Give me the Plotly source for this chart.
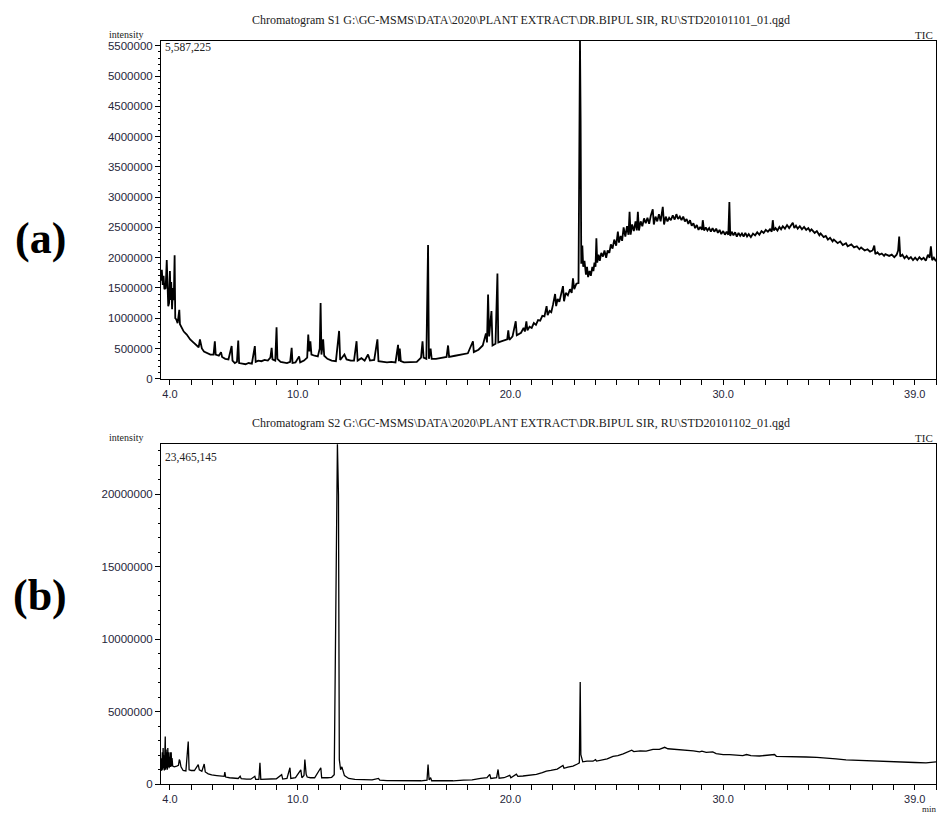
import plotly.graph_objects as go

# ---------------- data ----------------
# (a) Chromatogram S1 : (retention time in min, intensity in millions of counts)
chrom_a = [
    (3.58, 1.62), (3.62, 1.80), (3.66, 1.55), (3.70, 1.70), (3.74, 1.48), (3.80, 1.50), (3.85, 1.96),
    (3.88, 1.40), (3.92, 1.20), (3.96, 1.25), (4.00, 1.78), (4.03, 1.30), (4.06, 1.60), (4.10, 1.15),
    (4.14, 1.50), (4.18, 1.30), (4.22, 2.04), (4.25, 1.00), (4.30, 0.98), (4.36, 0.92), (4.44, 1.14),
    (4.47, 0.90), (4.55, 0.84), (4.65, 0.78), (4.79, 0.73), (4.95, 0.65), (5.10, 0.60), (5.25, 0.55),
    (5.35, 0.52), (5.41, 0.65), (5.45, 0.55), (5.50, 0.50), (5.60, 0.45), (5.75, 0.42), (5.90, 0.40),
    (6.05, 0.40), (6.11, 0.62), (6.15, 0.40), (6.30, 0.38), (6.40, 0.44), (6.45, 0.36), (6.60, 0.33),
    (6.75, 0.32), (6.90, 0.54), (6.94, 0.30), (7.05, 0.26), (7.15, 0.28), (7.21, 0.63), (7.25, 0.26),
    (7.40, 0.25), (7.55, 0.24), (7.70, 0.26), (7.85, 0.25), (7.99, 0.54), (8.03, 0.28), (8.15, 0.30),
    (8.30, 0.29), (8.45, 0.31), (8.60, 0.30), (8.72, 0.35), (8.78, 0.51), (8.82, 0.32), (8.95, 0.30),
    (9.01, 0.85), (9.05, 0.33), (9.20, 0.28), (9.35, 0.27), (9.50, 0.26), (9.65, 0.28), (9.72, 0.51),
    (9.76, 0.26), (9.90, 0.27), (10.07, 0.37), (10.12, 0.27), (10.30, 0.30), (10.45, 0.35), (10.50, 0.73),
    (10.55, 0.45), (10.60, 0.62), (10.65, 0.40), (10.80, 0.38), (10.95, 0.37), (11.04, 0.50), (11.08, 1.25),
    (11.12, 0.40), (11.20, 0.65), (11.25, 0.38), (11.40, 0.33), (11.60, 0.30), (11.80, 0.29), (11.95, 0.79),
    (12.00, 0.31), (12.20, 0.40), (12.30, 0.32), (12.50, 0.30), (12.65, 0.30), (12.77, 0.62), (12.82, 0.30),
    (13.00, 0.34), (13.15, 0.30), (13.31, 0.40), (13.40, 0.30), (13.60, 0.31), (13.75, 0.65), (13.80, 0.29),
    (14.00, 0.28), (14.20, 0.27), (14.40, 0.28), (14.60, 0.27), (14.72, 0.56), (14.76, 0.29), (14.80, 0.50),
    (14.85, 0.29), (15.00, 0.27), (15.30, 0.28), (15.60, 0.28), (15.80, 0.35), (15.87, 0.62), (15.92, 0.35),
    (16.05, 0.33), (16.13, 2.21), (16.17, 0.33), (16.25, 0.50), (16.30, 0.33), (16.50, 0.33), (16.80, 0.35),
    (17.00, 0.36), (17.07, 0.55), (17.12, 0.36), (17.40, 0.38), (17.70, 0.40), (18.00, 0.42), (18.24, 0.62),
    (18.28, 0.44), (18.50, 0.48), (18.70, 0.55), (18.85, 0.75), (18.90, 0.60), (18.95, 1.39), (19.00, 0.70),
    (19.05, 0.90), (19.11, 1.12), (19.16, 0.55), (19.30, 0.58), (19.39, 1.74), (19.43, 0.60), (19.60, 0.62),
    (19.85, 0.65), (19.90, 0.80), (19.95, 0.64), (20.10, 0.70), (20.25, 0.95), (20.30, 0.72), (20.50, 0.76),
    (20.62, 0.84), (20.68, 0.78), (20.75, 0.95), (20.80, 0.80), (20.90, 0.86), (21.00, 0.84), (21.10, 0.92),
    (21.20, 0.89), (21.30, 0.97), (21.40, 0.96), (21.50, 1.04), (21.60, 1.03), (21.70, 1.20), (21.75, 1.05),
    (21.84, 1.12), (21.92, 1.10), (22.00, 1.22), (22.10, 1.40), (22.15, 1.20), (22.22, 1.32), (22.30, 1.27),
    (22.38, 1.38), (22.47, 1.53), (22.52, 1.28), (22.60, 1.42), (22.70, 1.38), (22.80, 1.48), (22.88, 1.42),
    (22.94, 1.66), (23.00, 1.48), (23.10, 1.57), (23.20, 1.58), (23.24, 3.50), (23.27, 5.59), (23.30, 4.26),
    (23.33, 1.90), (23.38, 2.20), (23.42, 1.85), (23.48, 1.95), (23.55, 1.72), (23.60, 1.85), (23.65, 1.68),
    (23.72, 1.78), (23.78, 1.70), (23.85, 1.85), (23.90, 1.78), (23.95, 1.92), (24.00, 1.85), (24.04, 2.32),
    (24.08, 1.92), (24.14, 2.05), (24.20, 1.95), (24.27, 2.08), (24.35, 2.02), (24.42, 2.12), (24.50, 2.00),
    (24.57, 2.12), (24.65, 2.08), (24.72, 2.22), (24.80, 2.15), (24.88, 2.30), (24.97, 2.20), (25.05, 2.43),
    (25.10, 2.25), (25.18, 2.36), (25.25, 2.28), (25.32, 2.50), (25.40, 2.35), (25.48, 2.52), (25.55, 2.38),
    (25.60, 2.76), (25.65, 2.38), (25.72, 2.55), (25.80, 2.44), (25.88, 2.60), (25.94, 2.45), (25.99, 2.76),
    (26.04, 2.45), (26.12, 2.60), (26.20, 2.52), (26.28, 2.65), (26.36, 2.57), (26.44, 2.66), (26.52, 2.56),
    (26.60, 2.70), (26.69, 2.80), (26.74, 2.55), (26.82, 2.68), (26.90, 2.60), (26.98, 2.72), (27.06, 2.60),
    (27.16, 2.84), (27.22, 2.55), (27.30, 2.68), (27.38, 2.60), (27.46, 2.66), (27.54, 2.62), (27.63, 2.70),
    (27.72, 2.63), (27.80, 2.72), (27.88, 2.64), (27.96, 2.68), (28.04, 2.62), (28.12, 2.68), (28.20, 2.60),
    (28.28, 2.64), (28.36, 2.56), (28.44, 2.62), (28.52, 2.53), (28.60, 2.57), (28.68, 2.49), (28.76, 2.54),
    (28.84, 2.46), (28.92, 2.51), (29.00, 2.46), (29.04, 2.62), (29.10, 2.45), (29.18, 2.50), (29.26, 2.45),
    (29.34, 2.49), (29.42, 2.43), (29.50, 2.49), (29.58, 2.43), (29.67, 2.48), (29.75, 2.41), (29.83, 2.46),
    (29.91, 2.39), (30.00, 2.44), (30.08, 2.38), (30.16, 2.43), (30.24, 2.38), (30.29, 2.92), (30.33, 2.36),
    (30.40, 2.43), (30.48, 2.37), (30.56, 2.42), (30.64, 2.35), (30.72, 2.41), (30.80, 2.36), (30.88, 2.40),
    (30.96, 2.35), (31.04, 2.41), (31.12, 2.35), (31.20, 2.39), (31.30, 2.34), (31.40, 2.40), (31.50, 2.37),
    (31.60, 2.42), (31.70, 2.38), (31.80, 2.44), (31.90, 2.41), (32.00, 2.46), (32.10, 2.43), (32.20, 2.47),
    (32.28, 2.43), (32.33, 2.62), (32.38, 2.45), (32.46, 2.49), (32.55, 2.45), (32.64, 2.51), (32.72, 2.47),
    (32.80, 2.52), (32.90, 2.48), (33.00, 2.54), (33.10, 2.49), (33.20, 2.54), (33.27, 2.58), (33.34, 2.49),
    (33.42, 2.53), (33.50, 2.48), (33.60, 2.52), (33.70, 2.47), (33.80, 2.51), (33.90, 2.46), (34.00, 2.49),
    (34.08, 2.44), (34.15, 2.47), (34.30, 2.41), (34.40, 2.44), (34.52, 2.37), (34.58, 2.40), (34.72, 2.34),
    (34.82, 2.36), (34.92, 2.30), (35.02, 2.33), (35.14, 2.27), (35.20, 2.30), (35.38, 2.24), (35.50, 2.27),
    (35.62, 2.21), (35.77, 2.24), (35.85, 2.19), (36.02, 2.22), (36.15, 2.17), (36.28, 2.19), (36.40, 2.14),
    (36.48, 2.17), (36.65, 2.12), (36.78, 2.14), (36.90, 2.10), (37.02, 2.12), (37.10, 2.20), (37.15, 2.06),
    (37.25, 2.09), (37.34, 2.05), (37.45, 2.07), (37.56, 2.03), (37.62, 2.06), (37.80, 2.03), (37.92, 2.05),
    (38.04, 2.01), (38.15, 2.05), (38.22, 2.12), (38.27, 2.35), (38.32, 2.02), (38.42, 2.05), (38.52, 1.99),
    (38.62, 2.03), (38.72, 1.98), (38.82, 2.01), (38.92, 1.96), (39.02, 2.00), (39.12, 1.96), (39.22, 2.01),
    (39.32, 1.97), (39.42, 2.00), (39.52, 1.95), (39.62, 2.05), (39.70, 2.00), (39.76, 2.19), (39.82, 1.96),
    (39.90, 2.00), (40.00, 1.94),
]

# (b) Chromatogram S2 : (retention time in min, intensity in millions of counts)
chrom_b = [
    (3.58, 0.91), (3.60, 1.80), (3.62, 0.95), (3.64, 2.20), (3.66, 1.00), (3.68, 2.50), (3.70, 1.10),
    (3.72, 2.00), (3.74, 0.95), (3.76, 2.60), (3.78, 3.30), (3.80, 1.00), (3.82, 2.40), (3.84, 1.10),
    (3.86, 2.20), (3.88, 1.00), (3.90, 2.50), (3.92, 1.20), (3.94, 2.20), (3.96, 1.10), (3.98, 1.90),
    (4.00, 1.20), (4.02, 2.20), (4.04, 1.20), (4.06, 2.20), (4.08, 1.25), (4.10, 1.80), (4.13, 1.25),
    (4.20, 1.20), (4.32, 1.25), (4.40, 1.30), (4.44, 1.70), (4.47, 1.60), (4.52, 1.20), (4.62, 0.95),
    (4.75, 0.92), (4.86, 2.95), (4.90, 1.00), (5.00, 0.95), (5.15, 0.95), (5.33, 1.35), (5.38, 1.00),
    (5.50, 0.90), (5.61, 1.40), (5.66, 0.85), (5.80, 0.72), (5.96, 0.64), (6.20, 0.60), (6.40, 0.55),
    (6.55, 0.55), (6.58, 0.84), (6.62, 0.50), (6.80, 0.45), (7.00, 0.42), (7.21, 0.40), (7.30, 0.55),
    (7.35, 0.38), (7.60, 0.36), (7.80, 0.35), (7.99, 0.55), (8.03, 0.34), (8.18, 0.34), (8.23, 1.48),
    (8.27, 0.34), (8.50, 0.35), (8.80, 0.34), (9.00, 0.38), (9.25, 0.66), (9.30, 0.36), (9.50, 0.40),
    (9.64, 1.14), (9.68, 0.40), (9.90, 0.45), (10.15, 1.00), (10.20, 0.45), (10.30, 0.60), (10.34, 1.70),
    (10.40, 0.70), (10.45, 0.50), (10.60, 0.45), (10.80, 0.45), (11.09, 1.14), (11.13, 0.45), (11.40, 0.45),
    (11.60, 0.48), (11.72, 0.65), (11.76, 6.80), (11.82, 15.90), (11.87, 23.47), (11.92, 20.00), (11.96, 1.70),
    (12.02, 1.00), (12.08, 1.20), (12.20, 0.60), (12.40, 0.40), (12.69, 0.34), (13.00, 0.32), (13.30, 0.33),
    (13.50, 0.30), (13.80, 0.40), (13.86, 0.28), (14.20, 0.25), (14.60, 0.24), (15.00, 0.23), (15.40, 0.23),
    (15.80, 0.24), (16.08, 0.28), (16.13, 1.36), (16.18, 0.30), (16.25, 0.45), (16.30, 0.24), (16.80, 0.23),
    (17.30, 0.24), (17.80, 0.28), (18.20, 0.30), (18.60, 0.40), (18.90, 0.45), (19.03, 0.68), (19.08, 0.40),
    (19.35, 0.45), (19.42, 1.02), (19.47, 0.42), (19.70, 0.45), (19.97, 0.62), (20.02, 0.45), (20.28, 0.70),
    (20.35, 0.55), (20.59, 0.57), (20.90, 0.62), (21.22, 0.68), (21.50, 0.80), (21.69, 0.91), (21.90, 0.96),
    (22.20, 1.05), (22.47, 1.30), (22.52, 1.10), (22.70, 1.18), (22.94, 1.25), (23.15, 1.40), (23.24, 1.48),
    (23.28, 7.05), (23.31, 2.05), (23.40, 1.55), (23.60, 1.60), (23.88, 1.59), (24.00, 1.70), (24.05, 1.60),
    (24.30, 1.70), (24.55, 1.75), (24.82, 1.93), (25.05, 1.98), (25.30, 2.10), (25.60, 2.27), (25.70, 2.35),
    (25.80, 2.25), (26.10, 2.30), (26.38, 2.28), (26.70, 2.40), (27.00, 2.40), (27.16, 2.50), (27.25, 2.55),
    (27.40, 2.45), (27.70, 2.42), (27.95, 2.38), (28.30, 2.35), (28.60, 2.30), (28.89, 2.23), (29.00, 2.28),
    (29.20, 2.20), (29.51, 2.23), (29.67, 2.12), (30.00, 2.05), (30.30, 2.05), (30.60, 2.00), (30.92, 1.98),
    (31.10, 2.05), (31.30, 1.98), (31.70, 1.95), (32.00, 1.98), (32.41, 2.05), (32.50, 1.93), (32.96, 1.93),
    (33.40, 1.90), (33.90, 1.88), (34.40, 1.85), (34.83, 1.82), (35.30, 1.75), (35.77, 1.68), (36.20, 1.65),
    (36.71, 1.64), (37.20, 1.60), (37.65, 1.59), (38.10, 1.55), (38.59, 1.52), (39.00, 1.50), (39.53, 1.48),
    (39.80, 1.50), (40.00, 1.55),
]

max_a = 5587225
max_b = 23465145
y_ticks_a = [0, 500000, 1000000, 1500000, 2000000, 2500000, 3000000, 3500000, 4000000, 4500000, 5000000, 5500000]
y_ticks_b = [0, 5000000, 10000000, 15000000, 20000000]
x_tickvals = [4, 10, 20, 30, 39]
x_ticktext = ["4.0", "10.0", "20.0", "30.0", "39.0"]
title_a = "Chromatogram S1 G:\\GC-MSMS\\DATA\\2020\\PLANT EXTRACT\\DR.BIPUL SIR, RU\\STD20101101_01.qgd"
title_b = "Chromatogram S2 G:\\GC-MSMS\\DATA\\2020\\PLANT EXTRACT\\DR.BIPUL SIR, RU\\STD20101102_01.qgd"

time_a = [p[0] for p in chrom_a]
intensity_a = [p[1] * 1e6 for p in chrom_a]
time_b = [p[0] for p in chrom_b]
intensity_b = [p[1] * 1e6 for p in chrom_b]

# ---------------- figure ----------------
W, H = 938, 820
def px(x):
    return x / W
def py(y):
    return 1 - y / H

fig = go.Figure()
fig.add_trace(go.Scatter(x=time_a, y=intensity_a, mode="lines",
                         line=dict(color="black", width=1.8), xaxis="x", yaxis="y", showlegend=False))
fig.add_trace(go.Scatter(x=time_b, y=intensity_b, mode="lines",
                         line=dict(color="black", width=1.3), xaxis="x2", yaxis="y2", showlegend=False))

ytickfont = dict(family="Liberation Sans", size=11.5, color="#26263a")
xtickfont = dict(family="Liberation Sans", size=11, color="#26263a")
xdom = [px(161), px(936)]
xrange_ = [3.58, 40.0]

common_x = dict(range=xrange_, domain=xdom, showgrid=False, zeroline=False, showline=True,
                linecolor="black", linewidth=1, mirror=True, ticks="outside", ticklen=5,
                tickcolor="black", tickvals=x_tickvals, ticktext=x_ticktext, tickfont=xtickfont,
                minor=dict(dtick=1, tick0=0, ticks="outside", ticklen=5, tickcolor="black"))
common_y = dict(showgrid=False, zeroline=False, showline=True, linecolor="black", linewidth=1,
                mirror=True, ticks="outside", ticklen=5, tickcolor="black", tickfont=ytickfont,
                tickformat="d")

fig.update_layout(
    width=W, height=H, margin=dict(l=0, r=0, t=0, b=0),
    paper_bgcolor="white", plot_bgcolor="white",
    xaxis=dict(common_x, anchor="y"),
    yaxis=dict(common_y, anchor="x", domain=[py(381), py(40)], range=[0, max_a],
               tickvals=y_ticks_a,
               minor=dict(dtick=100000, ticks="outside", ticklen=2, tickcolor="black")),
    xaxis2=dict(common_x, anchor="y2"),
    yaxis2=dict(common_y, anchor="x2", domain=[py(790), py(447)], range=[0, max_b],
                tickvals=y_ticks_b,
                minor=dict(dtick=1000000, ticks="outside", ticklen=2, tickcolor="black")),
)

serif = "Liberation Serif"
ann = []
def note(x, y, text, xanchor="left", size=11, bold=False):
    ann.append(dict(x=px(x), y=py(y), xref="paper", yref="paper",
                    text=("<b>%s</b>" % text) if bold else text, showarrow=False,
                    xanchor=xanchor, yanchor="middle",
                    font=dict(family=serif, size=size, color="black" if bold else "#222")))

note(521, 19, title_a, "center", 12)
note(521, 426, title_b, "center", 12)
note(107, 34, "intensity", "left", 10)
note(107, 440, "intensity", "left", 10)
note(924, 34, "TIC", "center", 11)
note(924, 441, "TIC", "center", 11)
note(163, 47, "5,587,225", "left", 11.5)
note(163, 460, "23,465,145", "left", 11.5)
note(929, 815, "min", "center", 9)
note(40, 240, "(a)", "center", 44, bold=True)
note(40, 600, "(b)", "center", 44, bold=True)
fig.update_layout(annotations=ann)

fig.write_html("out.html", config={"displayModeBar": False},
               post_script="document.body.style.margin='0px';")
